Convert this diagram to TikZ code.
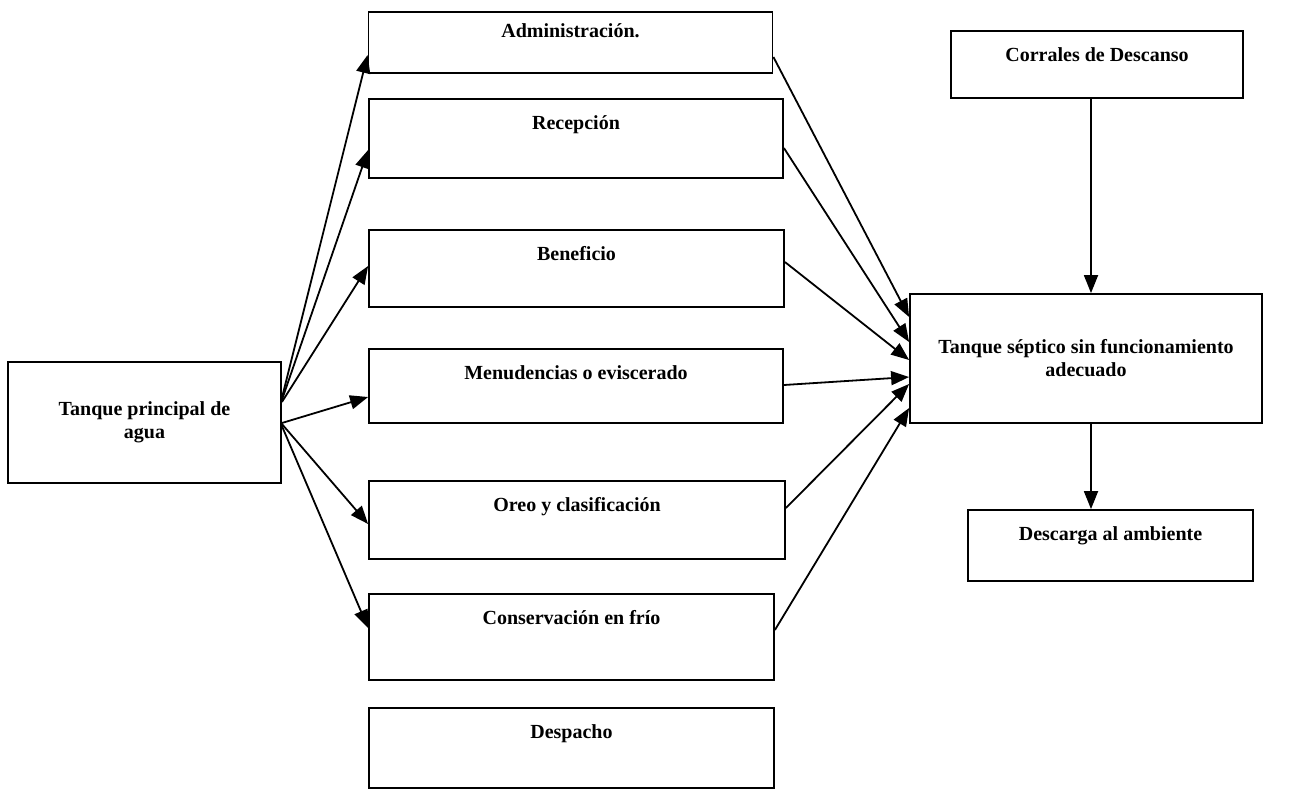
\documentclass[tikz,border=0pt]{standalone}
\usepackage{fontspec}
\setmainfont{Liberation Serif}
\usetikzlibrary{arrows.meta, positioning, calc}
\tikzset{
  caja/.style    = {rectangle, draw=black, line width=1.8pt, inner sep=0pt, align=center, font=\bfseries\fontsize{20}{23}\selectfont},
  titulo/.style  = {anchor=base, yshift=-31pt, inner sep=0pt, font=\bfseries\fontsize{20}{23}\selectfont},
  flecha/.style  = {-{Triangle[length=18pt, width=14pt]}, line width=1.8pt},
}

\begin{document}
\begin{tikzpicture}[x=1pt, y=-1pt]
  \useasboundingbox (0,0) rectangle (1301,790);

  % tanque de agua
  \node[caja, minimum width=273pt, minimum height=121pt] (tanque) at (144.5,422.5) {Tanque principal de\\agua};

  % areas de la planta
  \node[caja, minimum width=404pt, minimum height=61pt, label={[titulo, yshift=5pt]north:Administración.}] (admin) at (570.5,42.5) {};
  \node[caja, minimum width=414pt, minimum height=79pt, label={[titulo]north:Recepción}] (recep) at (576,138.5) {};
  \node[caja, minimum width=415pt, minimum height=77pt, label={[titulo]north:Beneficio}] (benef) at (576.5,268.5) {};
  \node[caja, minimum width=414pt, minimum height=74pt, label={[titulo]north:Menudencias o eviscerado}] (menud) at (576,386) {};
  \node[caja, minimum width=416pt, minimum height=78pt, label={[titulo]north:Oreo y clasificación}] (oreo) at (577,520) {};
  \node[caja, minimum width=405pt, minimum height=86pt, label={[titulo]north:Conservación en frío}] (conserv) at (571.5,637) {};
  \node[caja, minimum width=405pt, minimum height=80pt, label={[titulo]north:Despacho}] (despacho) at (571.5,748) {};

  % lado derecho
  \node[caja, minimum width=292pt, minimum height=67pt, label={[titulo]north:Corrales de Descanso}] (corrales) at (1097,64.5) {};
  \node[caja, minimum width=352pt, minimum height=129pt] (septico) at (1086,358.5) {Tanque séptico sin funcionamiento\\adecuado};
  \node[caja, minimum width=285pt, minimum height=71pt, label={[titulo]north:Descarga al ambiente}] (descarga) at (1110.5,545.5) {};

  % agua hacia las areas
  \draw[flecha] (tanque.east |- 0,398) -- (admin.west |- 0,55);
  \draw[flecha] (tanque.east |- 0,400) -- (recep.west |- 0,150);
  \draw[flecha] (tanque.east |- 0,402) -- (benef.west |- 0,266);
  \draw[flecha] (tanque.east |- 0,423) -- (menud.west |- 0,397);
  \draw[flecha] (tanque.east |- 0,424) -- (oreo.west |- 0,524);
  \draw[flecha] (tanque.east |- 0,426) -- (conserv.west |- 0,628);

  % vertimientos al tanque septico
  \draw[flecha] (admin.east |- 0,57) -- (septico.west |- 0,317);
  \draw[flecha] (recep.east |- 0,148) -- (septico.west |- 0,342);
  \draw[flecha] (benef.east |- 0,262) -- (septico.west |- 0,360);
  \draw[flecha] (menud.east |- 0,385) -- (septico.west |- 0,377);
  \draw[flecha] (oreo.east |- 0,508) -- (septico.west |- 0,384);
  \draw[flecha] (conserv.east |- 0,630) -- (septico.west |- 0,408);

  \draw[flecha] (corrales.south -| 1091,0) -- (septico.north -| 1091,0);
  \draw[flecha] (septico.south -| 1091,0) -- (descarga.north -| 1091,0);
\end{tikzpicture}
\end{document}
